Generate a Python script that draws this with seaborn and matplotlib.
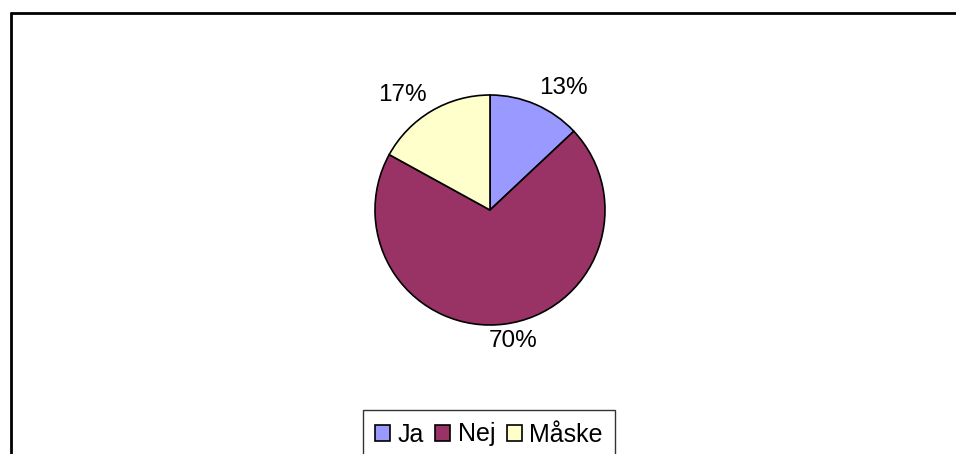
import numpy as np
import matplotlib
matplotlib.use("Agg")
import matplotlib.pyplot as plt
from matplotlib.lines import Line2D
import seaborn as sns

sns.set_style("white")
plt.rcParams['font.family'] = ['Liberation Sans', 'DejaVu Sans']
plt.rcParams['text.color'] = 'black'
plt.rcParams['legend.labelcolor'] = 'black'

# data
labels = ['Ja', 'Nej', 'Måske']
shares = [13, 70, 17]
colors = ['#9999FF', '#993366', '#FFFFCC']

W, H = 956, 454
fig = plt.figure(figsize=(W / 100, H / 100), dpi=100)

# pie centred at (490, 210) px with radius 115 px
cx, cy, r = 490, 210, 115
ax = fig.add_axes([(cx - r) / W, (H - cy - r) / H, 2 * r / W, 2 * r / H])
wedges, _ = ax.pie(shares, colors=colors, startangle=90, counterclock=False,
                   wedgeprops=dict(edgecolor='black', linewidth=1.2))
ax.set_xlim(-1, 1)
ax.set_ylim(-1, 1)
ax.set_aspect('equal')
ax.axis('off')

# percentage labels outside the slices, Excel style
hw, hh = 0.2, 0.07
for w, val in zip(wedges, shares):
    ang = np.deg2rad((w.theta1 + w.theta2) / 2)
    dx, dy = np.cos(ang), np.sin(ang)
    x = 1.1 * dx + hw * np.sign(dx) * min(1, 2.5 * abs(dx))
    y = 1.08 * dy + hh * np.sign(dy)
    ax.text(x, y, f"{val}%", ha='center', va='center', fontsize=17.5, color='black')

# legend
leg = fig.legend(wedges, labels, loc='upper center', ncol=3,
                 bbox_to_anchor=(489 / W, 1 - 410 / H),
                 fontsize=18, frameon=True, fancybox=False, shadow=False,
                 handlelength=0.6, handleheight=0.6, handletextpad=0.3,
                 columnspacing=0.45, borderpad=0.5, borderaxespad=0)
leg.get_frame().set_edgecolor('black')
leg.get_frame().set_linewidth(1.0)

# outer chart frame (left and top edges visible)
fx, fy = 11 / W, 1 - 12.5 / H
fig.add_artist(Line2D([fx, fx], [0, fy], color='black', linewidth=2))
fig.add_artist(Line2D([fx, 1], [fy, fy], color='black', linewidth=2))

fig.savefig('out.png', dpi=100)
